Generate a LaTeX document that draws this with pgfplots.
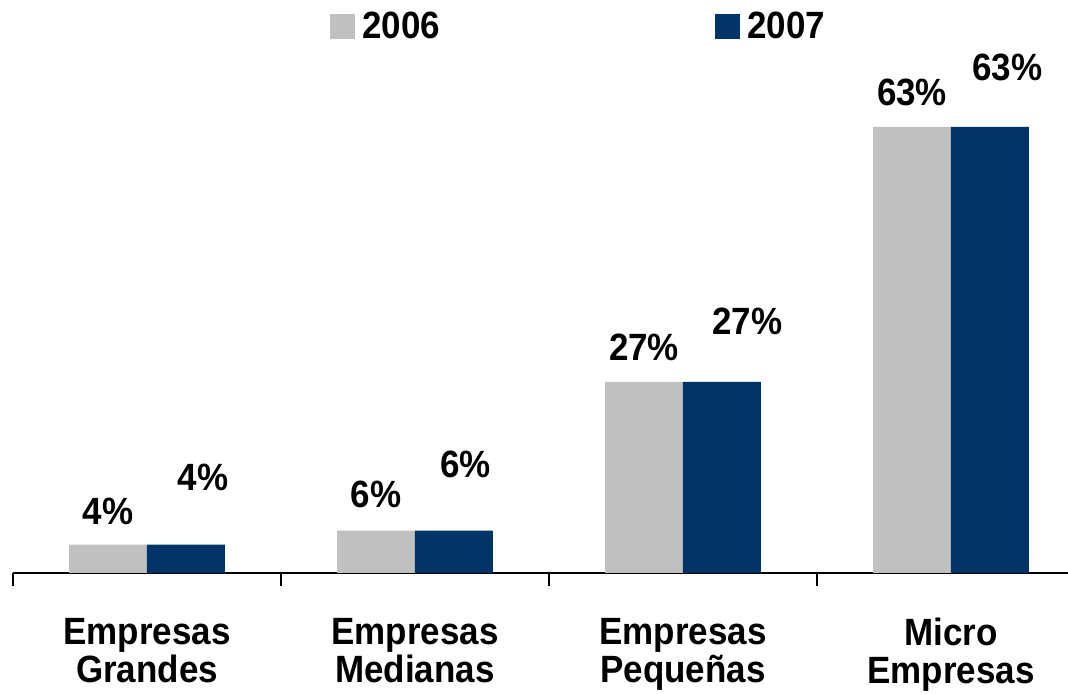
\documentclass[border=0pt]{standalone}
\usepackage{pgfplots}
\pgfplotsset{compat=1.18}
\usepackage{pgfplotstable}
\usepackage{fontspec}
\setmainfont{Liberation Sans}[FakeStretch=0.92]
\definecolor{gr}{HTML}{C0C0C0}
\definecolor{nv}{HTML}{003366}

\pgfplotstableread{
x y dx dy
0 4 -19.5 16.75
1 6 -19.5 18
2 27 -19.5 17
3 63 -19.5 17.25
}\tA
\pgfplotstableread{
x y dx dy
0 4 28 33.5
1 6 25.25 33
2 27 32.25 30
3 63 28.25 29.5
}\tB

\begin{document}
\begin{tikzpicture}
\begin{axis}[
  x=134pt, y=3.54pt,
  xmin=-0.5, xmax=3.5, ymin=0, ymax=70,
  clip=false,
  axis x line*=bottom, axis y line=none,
  xtick={0,1,2,3},
  xticklabels={{Empresas\\Grandes},{Empresas\\Medianas},{Empresas\\Pequeñas},{Micro\\Empresas}},
  minor xtick={-0.5,0.5,1.5,2.5,3.5},
  major tick length=0pt, minor tick length=6.5pt,
  tick align=outside,
  x axis line style={line width=1pt, black},
  every minor tick/.append style={line width=1pt, black},
  xticklabel style={font=\fontsize{19}{19}\selectfont\bfseries, align=center, anchor=north, inner sep=0pt, yshift=-22.5pt},
  ytick=\empty,
  legend columns=2,
  legend style={draw=none, fill=none, at={(0.2957,1.1017)}, anchor=west, inner sep=0pt,
    nodes={inner sep=0pt}, font=\fontsize{19}{19}\selectfont\bfseries},
  nodes near coords={\pgfmathprintnumber[assume math mode=true,fixed,precision=0]{\pgfplotspointmeta}\%},
  every node near coord/.append style={font=\fontsize{19}{19}\selectfont\bfseries, anchor=center, xshift=\ldx pt, yshift=\ldy pt},
  visualization depends on={\thisrow{dx} \as \ldx},
  visualization depends on={\thisrow{dy} \as \ldy},
]
\addplot[ybar, fill=gr, draw=none, bar width=0.291, bar shift=-0.1455,
  legend image code/.code={\fill[gr] (0pt,-6.25pt) rectangle (12.5pt,6.25pt); \path (16pt,0pt);}]
  table[x=x,y=y]{\tA};
\addlegendentry{2006}
\addplot[ybar, fill=nv, draw=none, bar width=0.291, bar shift=0.1455,
  legend image code/.code={\fill[nv] (0pt,-6.25pt) rectangle (12.5pt,6.25pt); \path (16pt,0pt) (-137.5pt,0pt);}]
  table[x=x,y=y]{\tB};
\addlegendentry{2007}
\coordinate (bl) at (axis cs:-0.5485,-17.09);
\coordinate (tr) at (axis cs:3.4366,80.93);
\end{axis}
\pgfresetboundingbox
\path[use as bounding box] (bl) rectangle (tr);
\end{tikzpicture}
\end{document}
